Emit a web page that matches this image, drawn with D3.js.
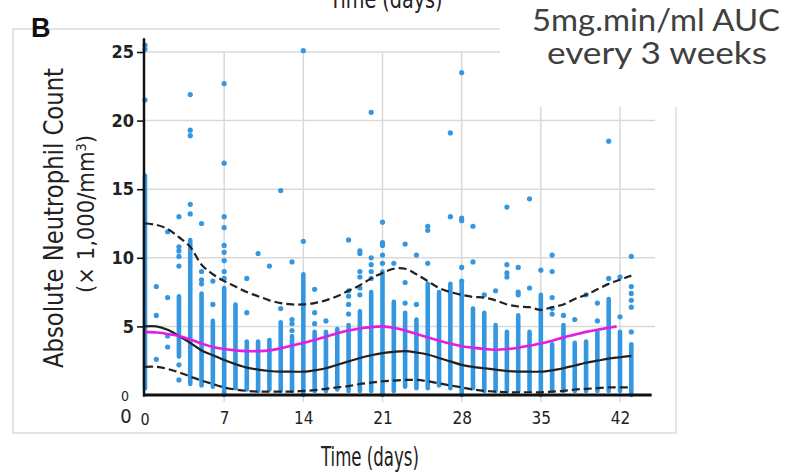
<!DOCTYPE html>
<html lang="en">
	<head>
		<meta charset="UTF-8" />
		<script src="https://d3js.org/d3.v7.min.js"></script>
		<title>ANC</title>
		<style>
			body { margin: 0; background: #fff; }
			svg { display: block; }
			.lbl { font-family: "Liberation Sans Narrow", "DejaVu Sans Condensed", "Roboto", sans-serif; fill: #222; }
		</style>
	</head>
	<body>
		<svg width="795" height="472"></svg>
		<script>
			// day of each column of observations
			const days = [0,1,2,3,4,5,6,7,8,9,10,11,12,13,14,15,16,17,18,19,20,21,
				22,23,24,25,26,27,28,29,30,31,32,33,34,35,36,37,38,39,40,41,42,43];
			// dense part of each column (null = no dense column)
			const colLow = [0.5,null,null,2.8,0.8,0.7,0.6,0,0.5,0.4,0.3,0.4,0.3,0.3,0,0.3,0.3,0.4,0.3,0.3,0.3,0,
				0.3,0.6,0.5,0.5,0.7,0.5,0,0.5,0.3,0.3,0.3,0.3,0.3,0,0.3,0.3,0.3,0.3,0.3,0.3,0.3,0];
			const colHigh = [16.0,null,null,7.2,11.3,7.4,5.4,7.8,6.6,3.9,3.9,4.0,5.3,4.3,8.8,4.6,4.6,4.8,5.1,6.1,7.5,9.0,
				6.8,6.0,5.5,8.1,7.5,8.1,8.1,6.3,6.0,5.1,4.6,5.8,4.6,7.3,3.7,5.1,3.8,3.9,4.6,7.0,4.6,3.7];
			// isolated points per column
			const extras = [
				[21.5,25.2,25.5], [7.9,5.8,2.6], [11.9,7.1,4.3,3.5], [13.0,10.8,10.5,10.1,9.4,2.2,1.1],
				[21.9,19.3,18.9,13.9,13.2], [12.5,9.0,8.4,8.1], [8.3,6.6],
				[22.7,16.9,13.0,12.2,10.9,10.4,9.8,9.0,8.5], [], [8.5,6.0], [10.3], [9.4],
				[14.9,6.3], [9.7,5.5,5.2,4.7], [25.1,11.2], [7.7,6.0,5.2], [5.4], [],
				[11.3,7.6,7.2,6.6,5.9], [10.5,10.3,9.0,8.6,7.8,7.3], [20.6,10.0,9.5,9.0,8.5],
				[12.6,11.1,10.9,10.2,9.6], [9.6], [11.0,8.2,6.7], [10.2,6.6], [12.3,12.0,9.6], [],
				[19.1,13.0], [23.5,12.9,12.7,9.3,8.3], [12.3,9.7], [7.3], [7.6], [13.7,9.5,8.9,8.6],
				[9.3,7.5,7.3], [14.3,7.8], [9.1], [10.2,9.0,7.1,6.3,5.9], [5.8], [5.5], [7.3],
				[6.7,5.4], [18.5,8.5], [8.6,5.7], [10.1,7.9,7.4,6.9,6.4,4.6]
			];

			const upperBand = [12.5,12.4,12.1,11.5,10.8,9.5,8.8,8.3,7.9,7.5,7.2,6.9,6.7,6.6,6.6,6.7,6.9,7.2,7.6,8.0,8.5,8.9,
				9.2,9.2,8.8,8.3,7.8,7.5,7.3,7.15,7.1,6.9,6.6,6.45,6.4,6.2,6.4,6.6,7.0,7.3,7.7,8.1,8.4,8.7];
			const median = [5.0,5.0,4.75,4.3,3.8,3.25,2.9,2.55,2.25,2.0,1.85,1.75,1.7,1.7,1.7,1.8,1.95,2.2,2.45,2.7,2.9,3.05,
				3.15,3.2,3.1,2.95,2.7,2.45,2.2,2.05,1.95,1.85,1.75,1.7,1.7,1.7,1.8,1.95,2.15,2.35,2.5,2.65,2.75,2.85];
			const lowerBand = [2.05,2.05,1.9,1.65,1.35,1.05,0.8,0.55,0.4,0.3,0.25,0.25,0.25,0.25,0.3,0.35,0.45,0.55,0.65,0.8,0.9,1.0,
				1.05,1.1,1.1,1.0,0.85,0.7,0.55,0.4,0.3,0.25,0.2,0.2,0.2,0.2,0.25,0.3,0.4,0.45,0.5,0.55,0.55,0.55];
			const modelDays = [0,1,2,3,4,5,6,7,8,9,10,11,12,13,14,15,16,17,18,19,20,21,
				22,23,24,25,26,27,28,29,30,31,32,33,34,35,36,37,38,39,40,41,41.7];
			const model = [4.6,4.55,4.45,4.3,4.05,3.75,3.5,3.35,3.25,3.2,3.2,3.25,3.4,3.6,3.8,4.0,4.25,4.5,4.7,4.85,4.95,5.0,
				4.9,4.7,4.45,4.2,3.95,3.75,3.55,3.45,3.35,3.3,3.35,3.45,3.6,3.75,3.95,4.2,4.4,4.6,4.75,4.9,5.0];

			const xTicks = [7,14,21,28,35,42];
			const yTicks = [5,10,15,20,25];

			const svg = d3.select("svg");
			const x = d3.scaleLinear().domain([0, 42]).range([145, 620]);
			const y = d3.scaleLinear().domain([0, 25]).range([395, 52]);

			// panel frame
			svg.append("rect")
				.attr("x", 13).attr("y", 29).attr("width", 663).attr("height", 404)
				.attr("fill", "none").attr("stroke", "#dcdcdc").attr("stroke-width", 1.5);

			// grid
			svg.append("g").selectAll("line").data(yTicks).join("line")
				.attr("x1", x(0)).attr("x2", x(45.1))
				.attr("y1", y).attr("y2", y)
				.attr("stroke", "#d9d9d9").attr("stroke-width", 1.5);
			svg.append("g").selectAll("line").data(xTicks).join("line")
				.attr("x1", x).attr("x2", x)
				.attr("y1", y(25)).attr("y2", y(0) + 7)
				.attr("stroke", "#d9d9d9").attr("stroke-width", 1.5);

			// observations
			const blue = "#3497e2";
			const cols = days.map((d, i) => ({ d, lo: colLow[i], hi: colHigh[i] })).filter(c => c.lo !== null);
			svg.append("g").selectAll("line").data(cols).join("line")
				.attr("x1", c => x(c.d)).attr("x2", c => x(c.d))
				.attr("y1", c => y(c.lo)).attr("y2", c => y(c.hi))
				.attr("stroke", blue).attr("stroke-width", 4.6).attr("stroke-linecap", "round");
			const pts = [];
			days.forEach((d, i) => extras[i].forEach(v => pts.push({ d, v })));
			svg.append("g").selectAll("circle").data(pts).join("circle")
				.attr("cx", p => x(p.d)).attr("cy", p => y(p.v)).attr("r", 2.6)
				.attr("fill", blue);

			// curves
			const line = d3.line().x(p => x(p[0])).y(p => y(p[1])).curve(d3.curveCatmullRom);
			const drawCurve = (xs, vs, color, w, dash) => svg.append("path")
				.attr("d", line(xs.map((d, i) => [d, vs[i]])))
				.attr("fill", "none").attr("stroke", color).attr("stroke-width", w)
				.attr("stroke-dasharray", dash);
			drawCurve(days, upperBand, "#222", 2.2, "8,4");
			drawCurve(days, lowerBand, "#222", 2.2, "8,4");
			drawCurve(days, median, "#222", 2.2, null);
			drawCurve(modelDays, model, "#e21ee2", 2.6, null);

			// axes lines
			svg.append("line").attr("x1", x(0) - 1).attr("x2", x(0) - 1).attr("y1", y(26)).attr("y2", y(0) + 1.5)
				.attr("stroke", "#111").attr("stroke-width", 2.5);
			svg.append("line").attr("x1", x(0) - 2).attr("x2", x(44.8)).attr("y1", y(0)).attr("y2", y(0))
				.attr("stroke", "#111").attr("stroke-width", 3);

			const yAxis = svg.append("g").attr("transform", `translate(${x(0) - 1},0)`)
				.call(d3.axisLeft(y).tickValues(yTicks).tickSize(7).tickPadding(3));
			yAxis.select(".domain").remove();
			yAxis.selectAll("line").attr("stroke", "#111").attr("stroke-width", 1.6);
			yAxis.selectAll("text").attr("class", "lbl").attr("font-size", 18).attr("font-weight", "bold")
				.attr("fill", "#222");

			const xAxis = svg.append("g").attr("transform", `translate(0,${y(0)})`)
				.call(d3.axisBottom(x).tickValues(xTicks).tickSize(0).tickPadding(17));
			xAxis.select(".domain").remove();
			xAxis.selectAll("text").attr("class", "lbl").attr("font-size", 17).attr("fill", "#333");

			svg.append("text").attr("class", "lbl").attr("x", 125).attr("y", 401).attr("text-anchor", "middle")
				.attr("font-size", 14).attr("fill", "#444").text("0");
			svg.append("text").attr("class", "lbl").attr("x", 126).attr("y", 423).attr("text-anchor", "middle")
				.attr("font-size", 20).attr("fill", "#333").text("0");
			svg.append("text").attr("class", "lbl").attr("x", x(0)).attr("y", 425).attr("text-anchor", "middle")
				.attr("font-size", 16).attr("fill", "#333").text("0");

			// axis titles
			svg.append("text").attr("class", "lbl")
				.attr("transform", "translate(63,218) rotate(-90)")
				.attr("text-anchor", "middle").attr("font-size", 26)
				.attr("textLength", 300).attr("lengthAdjust", "spacingAndGlyphs")
				.text("Absolute Neutrophil Count");
			const sub = svg.append("text").attr("class", "lbl")
				.attr("transform", "translate(94,214) rotate(-90)")
				.attr("text-anchor", "middle").attr("font-size", 23)
				.attr("textLength", 158).attr("lengthAdjust", "spacingAndGlyphs");
			sub.append("tspan").text("(\u00d7 1,000/mm");
			sub.append("tspan").attr("baseline-shift", "super").attr("font-size", 14).text("3");
			sub.append("tspan").text(")");
			svg.append("text").attr("class", "lbl").attr("x", 370).attr("y", 466)
				.attr("text-anchor", "middle").attr("font-size", 26)
				.attr("textLength", 98).attr("lengthAdjust", "spacingAndGlyphs")
				.text("Time (days)");

			// cut-off title of the panel above
			svg.append("text").attr("class", "lbl").attr("x", 386).attr("y", 8)
				.attr("text-anchor", "middle").attr("font-size", 25)
				.attr("textLength", 113).attr("lengthAdjust", "spacingAndGlyphs")
				.text("Time (days)");

			svg.append("text").attr("x", 31).attr("y", 37)
				.attr("font-family", "Liberation Sans, Arial, sans-serif").attr("font-weight", "bold")
				.attr("font-size", 27).attr("fill", "#111").text("B");

			// annotation box
			svg.append("rect").attr("x", 500).attr("y", 0).attr("width", 295).attr("height", 107).attr("fill", "#fff");
			svg.append("text").attr("x", 656).attr("y", 31).attr("text-anchor", "middle")
				.attr("font-family", "Lato, 'Open Sans', sans-serif").attr("font-size", 30).attr("fill", "#404040")
				.attr("textLength", 248).attr("lengthAdjust", "spacingAndGlyphs")
				.text("5mg.min/ml AUC");
			svg.append("text").attr("x", 657).attr("y", 64).attr("text-anchor", "middle")
				.attr("font-family", "Lato, 'Open Sans', sans-serif").attr("font-size", 30).attr("fill", "#404040")
				.attr("textLength", 220).attr("lengthAdjust", "spacingAndGlyphs")
				.text("every 3 weeks");
		</script>
	</body>
</html>
